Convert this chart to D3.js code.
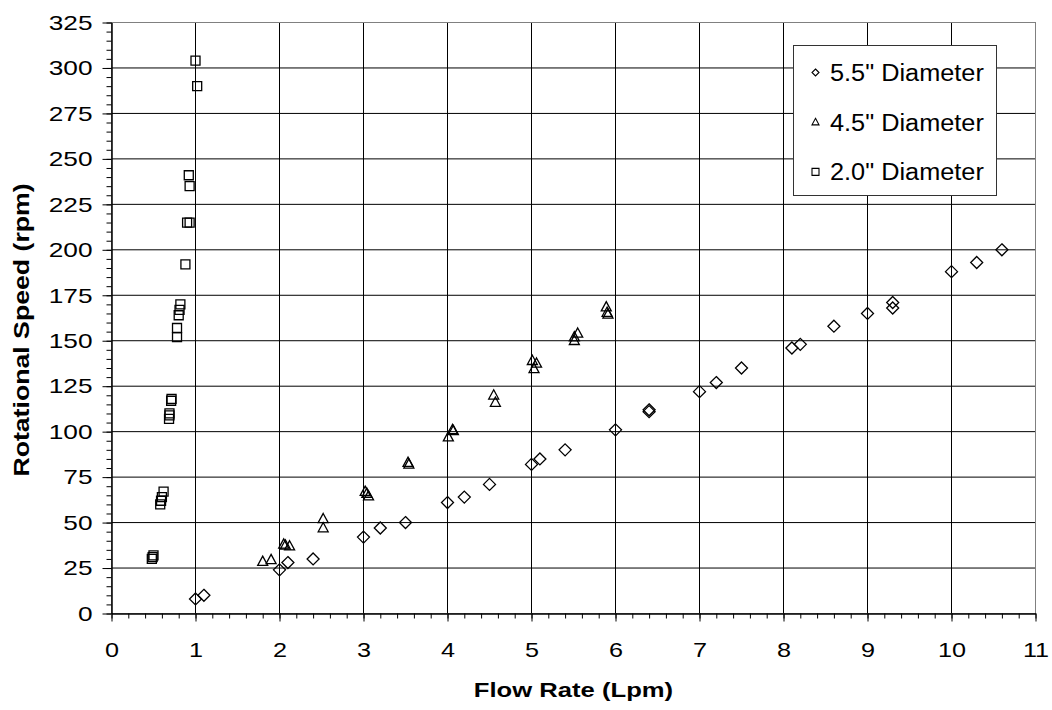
<!DOCTYPE html>
<html>
<head>
<meta charset="utf-8">
<script src="https://cdn.jsdelivr.net/npm/d3@7"></script>
<style>
  body { margin: 0; background: #fff; }
  text { font-family: "Liberation Sans", Arial, sans-serif; fill: #000; }
</style>
</head>
<body>
<div id="chart"></div>
<script>
// flow rate (Lpm) / rotational speed (rpm)
var d55Flow = [1.0, 1.1, 2.0, 2.1, 2.4, 3.0, 3.2, 3.5, 4.0, 4.2, 4.5, 5.0, 5.1, 5.4, 6.0, 6.4, 6.4, 7.0, 7.2, 7.5, 8.1, 8.2, 8.6, 9.0, 9.3, 9.3, 10.0, 10.3, 10.6];
var d55Speed = [8, 10, 24, 28, 30, 42, 47, 50, 61, 64, 71, 82, 85, 90, 101, 111, 112, 122, 127, 135, 146, 148, 158, 165, 168, 171, 188, 193, 200];

var d45Flow = [1.8, 1.9, 2.05, 2.07, 2.12, 2.52, 2.52, 3.02, 3.04, 3.06, 3.53, 3.54, 4.01, 4.06, 4.07, 4.55, 4.57, 5.01, 5.06, 5.03, 5.51, 5.55, 5.51, 5.89, 5.9, 5.91];
var d45Speed = [28.5, 29.5, 38, 37.5, 37, 52, 47, 67, 66, 64.5, 83, 82, 97, 101, 100.5, 120, 116, 139, 137.5, 134.5, 152, 154, 150, 168.5, 165.5, 164.5];

var d20Flow = [0.48, 0.49, 0.5, 0.58, 0.59, 0.6, 0.62, 0.685, 0.69, 0.69, 0.71, 0.715, 0.78, 0.78, 0.8, 0.81, 0.82, 0.88, 0.9, 0.93, 0.93, 0.92, 1.02, 1.0];
var d20Speed = [30, 31, 32, 60, 62, 64, 67, 107, 109, 110, 117, 118, 152, 157, 164, 167, 170, 192, 215, 215, 235, 241, 290, 304];

var seriesNames = ['5.5" Diameter', '4.5" Diameter', '2.0" Diameter'];
var seriesShapes = ["diamond", "triangle", "square"];
var xTicks = d3.range(0, 12, 1);
var yTicks = d3.range(0, 326, 25);

var W = 1052, H = 710;
var margin = { top: 22.5, right: 16.5, bottom: 96.5, left: 111.5 };
var width = W - margin.left - margin.right;
var height = H - margin.top - margin.bottom;

var svg = d3.select("#chart").append("svg")
  .attr("width", W).attr("height", H);
var g = svg.append("g")
  .attr("transform", "translate(" + margin.left + "," + margin.top + ")");

var x = d3.scaleLinear().domain([0, 11]).range([0, width]);
var y = d3.scaleLinear().domain([0, 325]).range([height, 0]);

// text in the picture runs ~25% wider than plain Arial
function stretch(sel, k) {
  sel.each(function() {
    var len = this.getComputedTextLength();
    d3.select(this).attr("textLength", len * k).attr("lengthAdjust", "spacingAndGlyphs");
  });
}

// grid
g.append("g").selectAll("line").data(yTicks.slice(1, -1)).join("line")
  .attr("x1", 0).attr("x2", width)
  .attr("y1", function(d) { return y(d); }).attr("y2", function(d) { return y(d); })
  .attr("stroke", "#000").attr("stroke-width", 1);
g.append("g").selectAll("line").data(xTicks.slice(1, -1)).join("line")
  .attr("y1", 0).attr("y2", height)
  .attr("x1", function(d) { return x(d); }).attr("x2", function(d) { return x(d); })
  .attr("stroke", "#000").attr("stroke-width", 1);
g.append("rect").attr("width", width).attr("height", height)
  .attr("fill", "none").attr("stroke", "#808080").attr("stroke-width", 1);

// minor ticks
g.append("g").call(d3.axisLeft(y).tickValues(d3.range(0, 326, 5)).tickSize(5).tickFormat(""))
  .call(function(a) { a.select(".domain").remove(); });
g.append("g").attr("transform", "translate(0," + height + ")")
  .call(d3.axisBottom(x).tickValues(d3.range(0, 55.5, 1).map(function(d) { return d / 5; })).tickSize(5).tickFormat(""))
  .call(function(a) { a.select(".domain").remove(); });

// major axes
var yAxis = g.append("g")
  .call(d3.axisLeft(y).tickValues(yTicks).tickSize(9).tickPadding(10).tickSizeOuter(0));
yAxis.selectAll("text").attr("font-size", 21).call(stretch, 1.25);
var xAxis = g.append("g").attr("transform", "translate(0," + height + ")")
  .call(d3.axisBottom(x).tickValues(xTicks).tickSize(8).tickPadding(21).tickSizeOuter(0));
xAxis.selectAll("text").attr("font-size", 21).call(stretch, 1.2);
g.selectAll(".domain").attr("stroke", "#000").attr("stroke-width", 1.5);
g.selectAll(".tick line").attr("stroke", "#000");
g.selectAll(".tick text").attr("font-family", "'Liberation Sans', Arial, sans-serif");

// axis titles
svg.append("text").attr("x", margin.left + width / 2).attr("y", 697)
  .attr("text-anchor", "middle").attr("font-size", 21).attr("font-weight", "bold")
  .text("Flow Rate (Lpm)").call(stretch, 1.22);
svg.append("text").attr("transform", "translate(29," + 330 + ") rotate(-90)")
  .attr("text-anchor", "middle").attr("font-size", 21.5).attr("font-weight", "bold")
  .text("Rotational Speed (rpm)").call(stretch, 1.24);

// marker shapes
function shapePath(shape, s) {
  var h = s / 2;
  if (shape === "diamond") return "M0," + (-h) + "L" + h + ",0L0," + h + "L" + (-h) + ",0Z";
  if (shape === "triangle") return "M0," + (-h * 1.1) + "L" + h + "," + (h * 0.75) + "L" + (-h) + "," + (h * 0.75) + "Z";
  return "M" + (-h) + "," + (-h) + "H" + h + "V" + h + "H" + (-h) + "Z";
}
var series = [
  { flow: d55Flow, speed: d55Speed, shape: "diamond", size: 12 },
  { flow: d45Flow, speed: d45Speed, shape: "triangle", size: 10 },
  { flow: d20Flow, speed: d20Speed, shape: "square", size: 9 }
];
series.forEach(function(s) {
  var pts = s.flow.map(function(f, i) { return [f, s.speed[i]]; });
  g.append("g").selectAll("path").data(pts).join("path")
    .attr("transform", function(d) { return "translate(" + x(d[0]) + "," + y(d[1]) + ")"; })
    .attr("d", shapePath(s.shape, s.size))
    .attr("fill", "none").attr("stroke", "#000").attr("stroke-width", 1.3);
});

// legend
var leg = svg.append("g").attr("transform", "translate(793.5,45.5)");
leg.append("rect").attr("width", 203).attr("height", 150)
  .attr("fill", "#fff").attr("stroke", "#333").attr("stroke-width", 1);
var rows = leg.selectAll(".row").data(seriesNames).join("g")
  .attr("class", "row")
  .attr("transform", function(d, i) { return "translate(0," + (27 + i * 49.7) + ")"; });
rows.append("path")
  .attr("transform", "translate(22,0)")
  .attr("d", function(d, i) { return shapePath(seriesShapes[i], 7); })
  .attr("fill", "none").attr("stroke", "#000").attr("stroke-width", 1.1);
rows.append("text").attr("x", 36.5).attr("y", 8.5)
  .attr("font-size", 23).text(function(d) { return d; }).call(stretch, 1.1);
</script>
</body>
</html>
